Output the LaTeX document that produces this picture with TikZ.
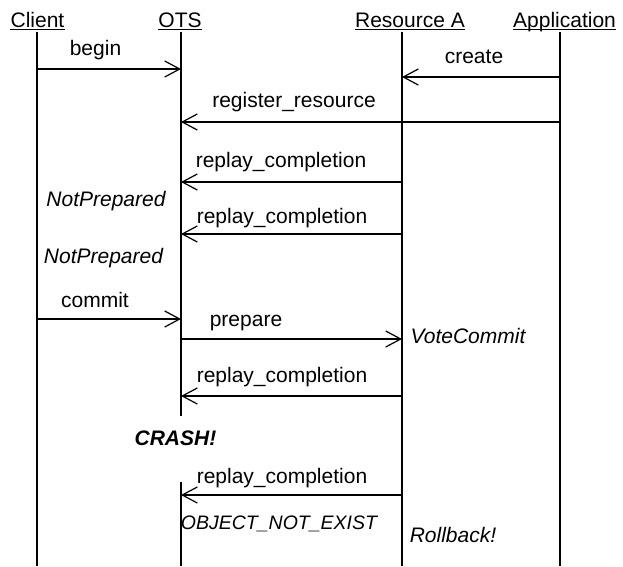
\documentclass[tikz,border=0pt]{standalone}
\usepackage{fontspec}
\setmainfont{Liberation Sans}
\usetikzlibrary{arrows.meta}
\begin{document}
\begin{tikzpicture}[x=1pt,y=-1pt,
  every node/.style={inner sep=0pt, font=\fontsize{21}{25}\selectfont},
  hdr/.style={anchor=base},
  lbl/.style={anchor=base},
  note/.style={anchor=base, font=\fontsize{21}{25}\selectfont\itshape},
  crash/.style={anchor=base, font=\fontsize{21}{25}\selectfont\bfseries\itshape},
  life/.style={line width=1.2pt},
  msg/.style={line width=1.2pt, -{Straight Barb[length=15pt,width=16pt,line width=1.2pt]}},
  uline/.style={line width=1.1pt}]
\useasboundingbox (0,0) rectangle (623,566);
% headers
\node[hdr] (client) at (37.5,27) {Client};
\node[hdr] (ots) at (180,27) {OTS};
\node[hdr] (resA) at (410,27) {Resource A};
\node[hdr] (app) at (564.5,27) {Application};
\foreach \n in {client,ots,resA,app}
  \draw[uline] ([yshift=-2.5pt]\n.base west) -- ([yshift=-2.5pt]\n.base east);
% lifeline coordinates
\coordinate (cT) at (37,32);  \coordinate (cB) at (37,566);
\coordinate (oT) at (181,32); \coordinate (oM) at (181,416);
\coordinate (oR) at (181,482); \coordinate (oB) at (181,566);
\coordinate (rT) at (402,32); \coordinate (rB) at (402,566);
\coordinate (aT) at (560,32); \coordinate (aB) at (560,566);
\draw[life] (cT) -- (cB);
\draw[life] (oT) -- (oM);
\draw[life] (oR) -- (oB);
\draw[life] (rT) -- (rB);
\draw[life] (aT) -- (aB);
% message end points
\coordinate (c1) at (37,69);   \coordinate (o1) at (181,69);
\coordinate (a2) at (560,77);  \coordinate (r2) at (402,77);
\coordinate (a3) at (560,122); \coordinate (o3) at (181,122);
\coordinate (r4) at (402,182); \coordinate (o4) at (181,182);
\coordinate (r5) at (402,234); \coordinate (o5) at (181,234);
\coordinate (c6) at (37,319);  \coordinate (o6) at (181,319);
\coordinate (o7) at (181,339); \coordinate (r7) at (402,339);
\coordinate (r8) at (402,396); \coordinate (o8) at (181,396);
\coordinate (r9) at (402,495); \coordinate (o9) at (181,495);
% messages
\draw[msg] (c1) -- (o1);
\draw[msg] (a2) -- (r2);
\draw[msg] (a3) -- (o3);
\draw[msg] (r4) -- (o4);
\draw[msg] (r5) -- (o5);
\draw[msg] (c6) -- (o6);
\draw[msg] (o7) -- (r7);
\draw[msg] (r8) -- (o8);
\draw[msg] (r9) -- (o9);
% labels
\node[lbl] (lbegin) at (95.5,55) {begin};
\node[lbl] (lcreate) at (474,63) {create};
\node[lbl] (lreg) at (294,107) {register\_resource};
\node[lbl] (lrc1) at (281,167) {replay\_completion};
\node[note] (np1) at (106,206) {NotPrepared};
\node[lbl] (lrc2) at (282,223) {replay\_completion};
\node[note] (np2) at (103.5,263) {NotPrepared};
\node[lbl] (lcommit) at (95,307) {commit};
\node[lbl] (lprep) at (246,326) {prepare};
\node[note] (vc) at (468,343) {VoteCommit};
\node[lbl] (lrc3) at (282,382) {replay\_completion};
\node[crash] (crash) at (175.5,445) {CRASH!};
\node[lbl] (lrc4) at (282,483) {replay\_completion};
\node[note, font=\fontsize{19.5}{24}\selectfont\itshape] (one) at (279,529) {OBJECT\_NOT\_EXIST};
\node[note] (rb) at (453,542) {Rollback!};
\end{tikzpicture}
\end{document}
